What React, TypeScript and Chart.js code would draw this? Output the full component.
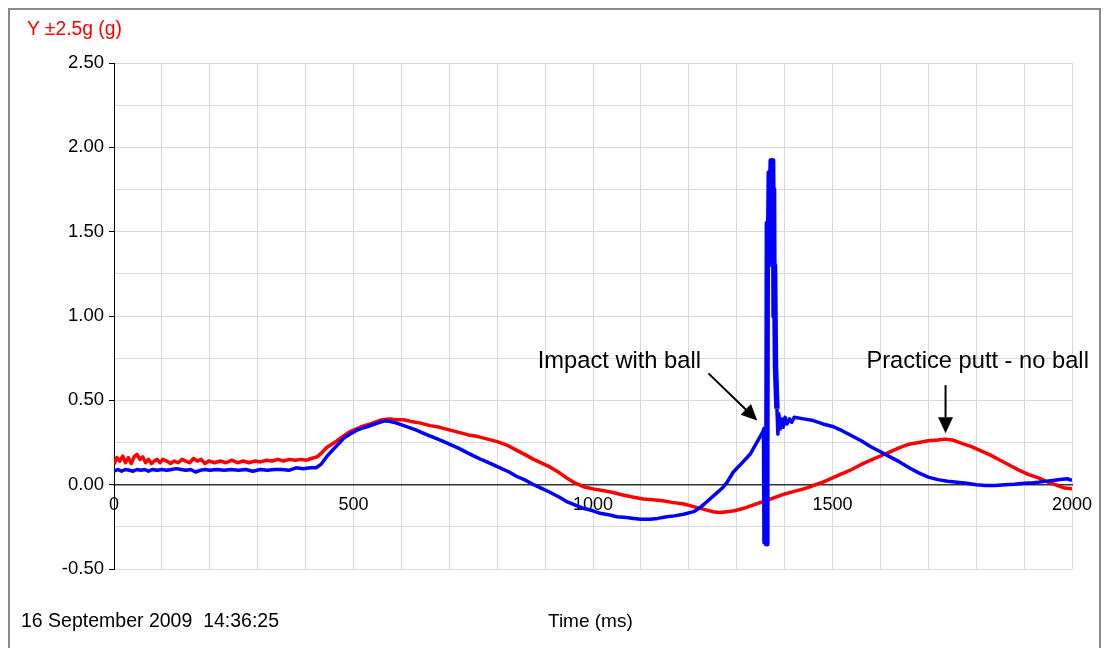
import React, { useEffect, useRef } from "react";
import { Chart, registerables } from "chart.js";

Chart.register(...registerables);

// Time axis (ms) and acceleration (g) readings
const redTimes = [0, 6, 12, 18, 24, 30, 36, 42, 48, 54, 60, 66, 72, 78, 84, 90, 96, 102, 110, 118, 126, 134, 142, 150, 158, 166, 174, 182, 190, 198, 210, 222, 234, 246, 258, 270, 282, 294, 306, 318, 330, 342, 354, 366, 378, 390, 402, 412, 424, 434, 444, 458, 470, 480, 493, 505, 518, 530, 545, 560, 575, 590, 605, 620, 640, 660, 680, 700, 720, 740, 760, 780, 800, 820, 840, 860, 876, 895, 910, 930, 945, 962, 980, 1000, 1020, 1040, 1060, 1085, 1105, 1125, 1145, 1165, 1190, 1210, 1230, 1250, 1265, 1280, 1295, 1315, 1335, 1356, 1380, 1400, 1420, 1440, 1460, 1480, 1500, 1520, 1540, 1560, 1580, 1600, 1620, 1640, 1660, 1680, 1700, 1720, 1735, 1750, 1770, 1790, 1810, 1830, 1850, 1870, 1890, 1910, 1930, 1950, 1970, 1985, 2000];
const redValues = [0.12, 0.16, 0.14, 0.17, 0.13, 0.16, 0.125, 0.165, 0.18, 0.15, 0.165, 0.13, 0.15, 0.125, 0.14, 0.15, 0.13, 0.15, 0.14, 0.125, 0.14, 0.13, 0.15, 0.14, 0.13, 0.155, 0.14, 0.15, 0.125, 0.14, 0.13, 0.14, 0.13, 0.145, 0.13, 0.14, 0.13, 0.14, 0.135, 0.145, 0.14, 0.15, 0.14, 0.15, 0.145, 0.15, 0.145, 0.155, 0.165, 0.19, 0.22, 0.245, 0.27, 0.29, 0.315, 0.33, 0.345, 0.355, 0.37, 0.385, 0.39, 0.385, 0.385, 0.375, 0.365, 0.35, 0.34, 0.325, 0.31, 0.295, 0.285, 0.27, 0.255, 0.235, 0.205, 0.175, 0.15, 0.125, 0.105, 0.07, 0.04, 0.01, -0.012, -0.025, -0.035, -0.045, -0.06, -0.075, -0.085, -0.09, -0.095, -0.105, -0.115, -0.13, -0.145, -0.16, -0.165, -0.16, -0.155, -0.14, -0.12, -0.1, -0.075, -0.055, -0.04, -0.025, -0.005, 0.015, 0.04, 0.065, 0.09, 0.12, 0.145, 0.17, 0.195, 0.22, 0.24, 0.25, 0.26, 0.265, 0.27, 0.265, 0.245, 0.225, 0.2, 0.175, 0.145, 0.115, 0.085, 0.06, 0.04, 0.015, -0.005, -0.02, -0.025];

const blueTimes = [0, 8, 16, 24, 32, 40, 48, 56, 64, 72, 80, 90, 100, 110, 120, 130, 140, 150, 160, 170, 180, 190, 200, 215, 230, 245, 260, 275, 290, 305, 320, 335, 350, 365, 380, 395, 410, 422, 432, 444, 458, 470, 479, 493, 505, 518, 530, 550, 565, 575, 590, 605, 630, 650, 667, 685, 700, 720, 737, 755, 770, 790, 806, 825, 840, 860, 876, 895, 910, 930, 945, 962, 980, 1000, 1015, 1035, 1050, 1070, 1085, 1100, 1119, 1135, 1154, 1170, 1189, 1210, 1224, 1240, 1258, 1270, 1279, 1293, 1310, 1328, 1340, 1349, 1356, 1358, 1359, 1361, 1362, 1363, 1364, 1366, 1368, 1370, 1372, 1374, 1375, 1376, 1377, 1378, 1379, 1381, 1384, 1386, 1388, 1391, 1394, 1397, 1401, 1405, 1410, 1415, 1420, 1440, 1460, 1480, 1500, 1520, 1540, 1560, 1580, 1600, 1620, 1640, 1660, 1680, 1700, 1720, 1740, 1760, 1780, 1800, 1820, 1840, 1860, 1880, 1900, 1920, 1940, 1960, 1975, 1990, 2000];
const blueValues = [0.08, 0.09, 0.08, 0.09, 0.085, 0.08, 0.09, 0.085, 0.09, 0.08, 0.09, 0.085, 0.09, 0.085, 0.09, 0.095, 0.09, 0.085, 0.09, 0.075, 0.085, 0.09, 0.085, 0.09, 0.085, 0.09, 0.085, 0.09, 0.08, 0.09, 0.085, 0.09, 0.09, 0.085, 0.1, 0.095, 0.1, 0.1, 0.12, 0.166, 0.21, 0.245, 0.275, 0.3, 0.32, 0.335, 0.345, 0.365, 0.378, 0.376, 0.365, 0.35, 0.325, 0.3, 0.28, 0.26, 0.24, 0.215, 0.19, 0.165, 0.145, 0.12, 0.1, 0.075, 0.05, 0.025, 0, -0.025, -0.045, -0.075, -0.1, -0.12, -0.14, -0.155, -0.17, -0.18, -0.19, -0.195, -0.2, -0.205, -0.205, -0.2, -0.19, -0.185, -0.175, -0.16, -0.135, -0.095, -0.05, -0.02, 0.01, 0.075, 0.125, 0.18, 0.24, 0.285, 0.32, 0.33, -0.34, 0.3, -0.35, 0.2, 1.55, 1.3, 1.85, 1.65, 1.92, 1.9, 1.92, 1.5, 1.75, 1.0, 1.3, 0.7, 0.45, 0.3, 0.42, 0.33, 0.39, 0.34, 0.4, 0.36, 0.39, 0.37, 0.4, 0.39, 0.38, 0.36, 0.345, 0.32, 0.29, 0.26, 0.225, 0.195, 0.165, 0.135, 0.1, 0.07, 0.045, 0.03, 0.02, 0.015, 0.008, 0, -0.005, -0.005, 0, 0.003, 0.008, 0.012, 0.018, 0.025, 0.03, 0.035, 0.025, 0.02];

// Impact burst window (ms), drawn with a heavier stroke
const impactStart = 1358;
const impactEnd = 1384;

// Axis settings
const xMin = 0;
const xMax = 2000;
const xGridStep = 100;
const xLabelStep = 500;
const yMin = -0.5;
const yMax = 2.5;
const yGridStep = 0.25;
const yLabelStep = 0.5;

// Text
const yAxisTitle = "Y \u00b12.5g (g)";
const dateText = "16 September 2009  14:36:25";
const xAxisTitle = "Time (ms)";

// Annotations (data coordinates)
const annotationTexts = ["Impact with ball", "Practice putt - no ball"];
const annotationTextX = [1055, 1803];
const annotationTextY = [0.69, 0.69];
const arrowFromX = [1241, 1736];
const arrowFromY = [0.66, 0.59];
const arrowToX = [1343, 1736];
const arrowToY = [0.38, 0.305];

const FONT = "'Liberation Sans', Arial, Helvetica, sans-serif";

const annotationPlugin = {
  id: "annotationsDraw",
  afterDatasetsDraw(chart: any) {
    const { ctx, scales } = chart;
    const xs = scales.x;
    const ys = scales.y;
    ctx.save();
    ctx.fillStyle = "#000";
    ctx.strokeStyle = "#000";
    ctx.font = `23.7px ${FONT}`;
    ctx.textAlign = "center";
    ctx.textBaseline = "alphabetic";
    annotationTexts.forEach((t, i) => {
      ctx.fillText(t, xs.getPixelForValue(annotationTextX[i]), ys.getPixelForValue(annotationTextY[i]));
      const x1 = xs.getPixelForValue(arrowFromX[i]);
      const y1 = ys.getPixelForValue(arrowFromY[i]);
      const x2 = xs.getPixelForValue(arrowToX[i]);
      const y2 = ys.getPixelForValue(arrowToY[i]);
      const ang = Math.atan2(y2 - y1, x2 - x1);
      const headLen = 16;
      const headHalf = 7.5;
      const bx = x2 - headLen * Math.cos(ang);
      const by = y2 - headLen * Math.sin(ang);
      ctx.lineWidth = 2;
      ctx.beginPath();
      ctx.moveTo(x1, y1);
      ctx.lineTo(bx, by);
      ctx.stroke();
      ctx.beginPath();
      ctx.moveTo(x2, y2);
      ctx.lineTo(bx + headHalf * Math.sin(ang), by - headHalf * Math.cos(ang));
      ctx.lineTo(bx - headHalf * Math.sin(ang), by + headHalf * Math.cos(ang));
      ctx.closePath();
      ctx.fill();
    });
    ctx.restore();
  },
};

const isMultiple = (v: number, step: number) => Math.abs(v / step - Math.round(v / step)) < 1e-6;

export default function App() {
  const canvasRef = useRef<HTMLCanvasElement | null>(null);

  useEffect(() => {
    if (!canvasRef.current) return;
    const chart = new Chart(canvasRef.current, {
      type: "line",
      data: {
        datasets: [
          {
            label: "Impact",
            data: blueTimes.map((t, i) => ({ x: t, y: blueValues[i] })),
            borderColor: "#0000ff",
            backgroundColor: "#0000ff",
            borderWidth: 3.5,
            borderJoinStyle: "round",
            borderCapStyle: "butt",
            pointRadius: 0,
            tension: 0,
            order: 0,
            segment: {
              borderWidth: (c: any) =>
                c.p0.parsed.x >= impactStart && c.p1.parsed.x <= impactEnd ? 5.5 : 3.5,
            },
          },
          {
            label: "Practice",
            data: redTimes.map((t, i) => ({ x: t, y: redValues[i] })),
            borderColor: "#ff0000",
            backgroundColor: "#ff0000",
            borderWidth: 3.5,
            borderJoinStyle: "round",
            pointRadius: 0,
            tension: 0,
            order: 1,
          },
        ],
      },
      options: {
        animation: false,
        responsive: false,
        layout: { padding: { left: 0, top: 53, right: 27, bottom: 79 } },
        plugins: { legend: { display: false }, tooltip: { enabled: false }, title: { display: false } },
        scales: {
          x: {
            type: "linear",
            min: xMin,
            max: xMax,
            position: { y: 0 } as any,
            grid: {
              color: "#d9d9d9",
              lineWidth: 1,
              drawTicks: true,
              tickLength: 8,
              tickColor: "rgba(0,0,0,0)",
            },
            border: { display: true, color: "#333333", width: 1.5 },
            ticks: {
              stepSize: xGridStep,
              autoSkip: false,
              maxRotation: 0,
              padding: 2,
              color: "#000",
              font: { family: FONT, size: 18 },
              callback: (v: any) => (isMultiple(Number(v), xLabelStep) ? String(v) : ""),
            },
          },
          y: {
            type: "linear",
            min: yMin,
            max: yMax,
            position: "left",
            afterFit: (s: any) => {
              s.width = 104;
            },
            grid: {
              color: "#d9d9d9",
              lineWidth: 1,
              drawTicks: true,
              tickLength: 5,
              tickColor: (ctx: any) => (ctx.tick && ctx.tick.label ? "#000" : "rgba(0,0,0,0)"),
            },
            border: { display: true, color: "#000", width: 1 },
            ticks: {
              stepSize: yGridStep,
              autoSkip: false,
              padding: 5,
              color: "#000",
              font: { family: FONT, size: 18.5 },
              callback: (v: any) => (isMultiple(Number(v), yLabelStep) ? Number(v).toFixed(2) : ""),
            },
          },
        },
      },
      plugins: [annotationPlugin],
    } as any);
    return () => chart.destroy();
  }, []);

  const textStyle: React.CSSProperties = {
    position: "absolute",
    fontFamily: FONT,
    fontSize: 19,
    lineHeight: "19px",
    whiteSpace: "pre",
    margin: 0,
  };

  return (
    <>
      <style>{"html,body{overflow:hidden;background:#fff}"}</style>
      <div
        style={{
          position: "relative",
          width: 1089,
          height: 650,
          border: "2px solid #8a8a8a",
          background: "#fff",
        }}
      >
        <canvas
          ref={canvasRef}
          width={1089}
          height={638}
          style={{ position: "absolute", left: 0, top: 0, width: 1089, height: 638 }}
        />
        <div style={{ ...textStyle, left: 17, top: 9, fontSize: 19.3, color: "#ff0000" }}>{yAxisTitle}</div>
        <div style={{ ...textStyle, left: 11, top: 601, fontSize: 19.5, color: "#000" }}>{dateText}</div>
        <div style={{ ...textStyle, left: 538, top: 601, color: "#000" }}>{xAxisTitle}</div>
      </div>
    </>
  );
}
